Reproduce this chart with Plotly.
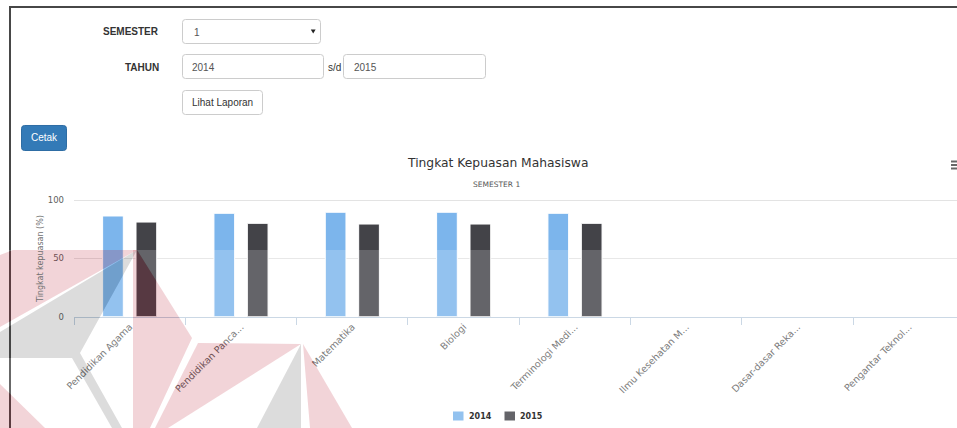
import plotly.graph_objects as go

W, H = 957, 428

# ---------------- data ----------------
categories = ["Pendidikan Agama", "Pendidikan Panca...", "Matematika", "Biologi",
              "Terminologi Medi...", "Ilmu Kesehatan M...", "Dasar-dasar Reka...",
              "Pengantar Teknol..."]
series_names = ["2014", "2015"]
values_2014 = [86.3, 88.6, 89.5, 89.5, 88.6, None, None, None]
values_2015 = [81.1, 80.0, 79.4, 79.4, 80.0, None, None, None]
y_ticks = [0, 50, 100]
y_ticklabels = ["0", "50", "100"]

title_text = "Tingkat Kepuasan Mahasiswa"
subtitle_text = "SEMESTER 1"
y_title_text = "Tingkat kepuasan (%)"

form_semester_label = "SEMESTER"
form_semester_value = "1"
form_year_label = "TAHUN"
form_year_from = "2014"
form_year_to = "2015"
form_sd = "s/d"
form_button = "Lihat Laporan"
print_button = "Cetak"

# ---------------- styles ----------------
series_colors = ["#7cb5ec", "#434348"]
CHART_FONT = "DejaVu Sans"
FORM_FONT = "Liberation Sans, Arial, sans-serif"


def fx(x):
    return x / W


def fy(y):
    return 1 - y / H


def P(x, y):
    return f"{fx(x):.5f},{fy(y):.5f}"


def rrect(x0, y0, x1, y1, r):
    return (f"M{P(x0 + r, y0)} L{P(x1 - r, y0)} Q{P(x1, y0)} {P(x1, y0 + r)} "
            f"L{P(x1, y1 - r)} Q{P(x1, y1)} {P(x1 - r, y1)} L{P(x0 + r, y1)} "
            f"Q{P(x0, y1)} {P(x0, y1 - r)} L{P(x0, y0 + r)} Q{P(x0, y0)} {P(x0 + r, y0)} Z")


def poly(pts):
    return "M" + " L".join(P(x, y) for x, y in pts) + " Z"


fig = go.Figure()
for name, vals, color in zip(series_names, [values_2014, values_2015], series_colors):
    fig.add_bar(x=categories, y=vals, name=name,
                marker=dict(color=color, line=dict(color="white", width=1)))

# plot-area geometry (pixels)
x_left, cat_w = 74, 111.33
y_zero, y_100 = 316.7, 200.0
px_per_unit = (y_zero - y_100) / 100.0
y_top_px = 194.0
y_max = 100 + (y_100 - y_top_px) / px_per_unit
x_hi = -0.5 + (W - x_left) / cat_w

shapes = []
annotations = []

# ----- page frame -----
shapes.append(dict(type="line", xref="paper", yref="paper", x0=fx(9), x1=fx(W), y0=fy(7), y1=fy(7),
                   line=dict(color="#474747", width=2)))
shapes.append(dict(type="line", xref="paper", yref="paper", x0=fx(10), x1=fx(10), y0=fy(6), y1=fy(H),
                   line=dict(color="#474747", width=2)))

# ----- form controls -----
box_line = dict(color="#cccccc", width=1)
shapes.append(dict(type="path", xref="paper", yref="paper", path=rrect(182.5, 19.5, 320.5, 43.5, 3),
                   line=box_line, fillcolor="white"))
shapes.append(dict(type="path", xref="paper", yref="paper",
                   path=poly([(310.8, 29.6), (315.6, 29.6), (313.2, 33.6)]),
                   line=dict(width=0), fillcolor="#222222"))
shapes.append(dict(type="path", xref="paper", yref="paper", path=rrect(182.5, 54.5, 323.5, 78.5, 3),
                   line=box_line, fillcolor="white"))
shapes.append(dict(type="path", xref="paper", yref="paper", path=rrect(343.5, 54.5, 485.5, 78.5, 3),
                   line=box_line, fillcolor="white"))
shapes.append(dict(type="path", xref="paper", yref="paper", path=rrect(182.5, 90.5, 262.5, 114.5, 3),
                   line=box_line, fillcolor="white"))
shapes.append(dict(type="path", xref="paper", yref="paper", path=rrect(21.5, 125.5, 66.5, 150.5, 3),
                   line=dict(color="#2e6da4", width=1), fillcolor="#337ab7"))


def txt(x, y, s, size, color, anchor="left", bold=False, family=FORM_FONT, angle=0):
    annotations.append(dict(x=fx(x), y=fy(y), xref="paper", yref="paper", text=f"<b>{s}</b>" if bold else s,
                            showarrow=False, xanchor=anchor, yanchor="middle", textangle=angle,
                            font=dict(family=family, size=size, color=color), borderpad=0))


txt(160, 31.7, form_semester_label, 10, "#333333", anchor="right", bold=True)
txt(193, 32, form_semester_value, 10, "#555555")
txt(160, 67, form_year_label, 10, "#333333", anchor="right", bold=True)
txt(191, 67, form_year_from, 10, "#555555")
txt(327, 67, form_sd, 10, "#333333")
txt(353, 67, form_year_to, 10, "#555555")
txt(222.5, 102.3, form_button, 10, "#333333", anchor="center")
txt(44, 137.8, print_button, 10, "#ffffff", anchor="center")

# ----- chart texts -----
txt(497.5, 163, title_text, 12.3, "#333333", anchor="center", family=CHART_FONT)
txt(496, 184.5, subtitle_text, 7.5, "#555555", anchor="center", family=CHART_FONT)
txt(40, 259, y_title_text, 8, "#707070", anchor="center", family=CHART_FONT, angle=-90)

# exporting menu icon
for yy in (161.5, 165, 168.5):
    shapes.append(dict(type="line", xref="paper", yref="paper", x0=fx(951), x1=fx(957), y0=fy(yy), y1=fy(yy),
                       line=dict(color="#666666", width=2)))

# ----- custom legend -----
legend_x = [453, 504.5]
for name, color, lx in zip(series_names, series_colors, legend_x):
    shapes.append(dict(type="rect", xref="paper", yref="paper", x0=fx(lx), x1=fx(lx + 10.5),
                       y0=fy(420.5), y1=fy(411.5), line=dict(width=0), fillcolor=color))
    txt(lx + 14.5, 416.5, name, 8, "#333333", bold=True, family=CHART_FONT)

# ----- watermark -----
pink_polys = [
    [(13, 250), (137, 250), (0, 327), (0, 255)],
    [(133, 250), (137, 250), (192, 338), (150, 428), (133, 428)],
    [(198, 343), (301, 344), (168, 428), (155, 428)],
    [(303, 344), (352, 428), (310, 428)],
    [(0, 384), (0, 428), (45, 428)],
]
grey_polys = [
    [(137, 250), (0, 332), (0, 358), (72, 358), (112, 428), (122, 428), (80, 353)],
    [(301, 344), (257, 428), (301, 428)],
]
white_path = poly([(0, 250), (W, 250), (W, H), (0, H)]) + " " + " ".join(poly(p) for p in pink_polys + grey_polys)
shapes.append(dict(type="path", xref="paper", yref="paper", path=white_path, fillrule="evenodd",
                   line=dict(width=0), fillcolor="rgba(255,255,255,0.18)", layer="above"))
for p in pink_polys:
    shapes.append(dict(type="path", xref="paper", yref="paper", path=poly(p),
                       line=dict(width=0), fillcolor="rgba(183,17,39,0.18)", layer="above"))
for p in grey_polys:
    shapes.append(dict(type="path", xref="paper", yref="paper", path=poly(p),
                       line=dict(width=0), fillcolor="rgba(61,61,61,0.18)", layer="above"))

fig.update_layout(
    width=W, height=H, autosize=False,
    margin=dict(l=0, r=0, t=0, b=0, pad=0),
    paper_bgcolor="white", plot_bgcolor="white",
    barmode="group", bargap=0.40, bargroupgap=0.38,
    showlegend=False,
    shapes=shapes, annotations=annotations,
    xaxis=dict(domain=[x_left / W, 1], range=[-0.5, x_hi], type="category",
               categoryorder="array", categoryarray=categories,
               showgrid=False, zeroline=False, showline=True, linecolor="#c0d0e0", linewidth=1,
               ticks="outside", ticklen=7, tickcolor="#c0d0e0", tickwidth=1, tickson="boundaries",
               tickangle=-45, tickfont=dict(family=CHART_FONT, size=9.5, color="#606060"),
               automargin=False, fixedrange=True),
    yaxis=dict(domain=[fy(y_zero), fy(y_top_px)], range=[0, y_max], tickvals=y_ticks, ticktext=y_ticklabels,
               showgrid=True, gridcolor="#e3e3e3", gridwidth=1, zeroline=False, showline=False,
               ticks="", ticklabelstandoff=9,
               tickfont=dict(family=CHART_FONT, size=8.5, color="#606060"),
               automargin=False, fixedrange=True),
)

fig.write_html("out.html", config={"displayModeBar": False})
